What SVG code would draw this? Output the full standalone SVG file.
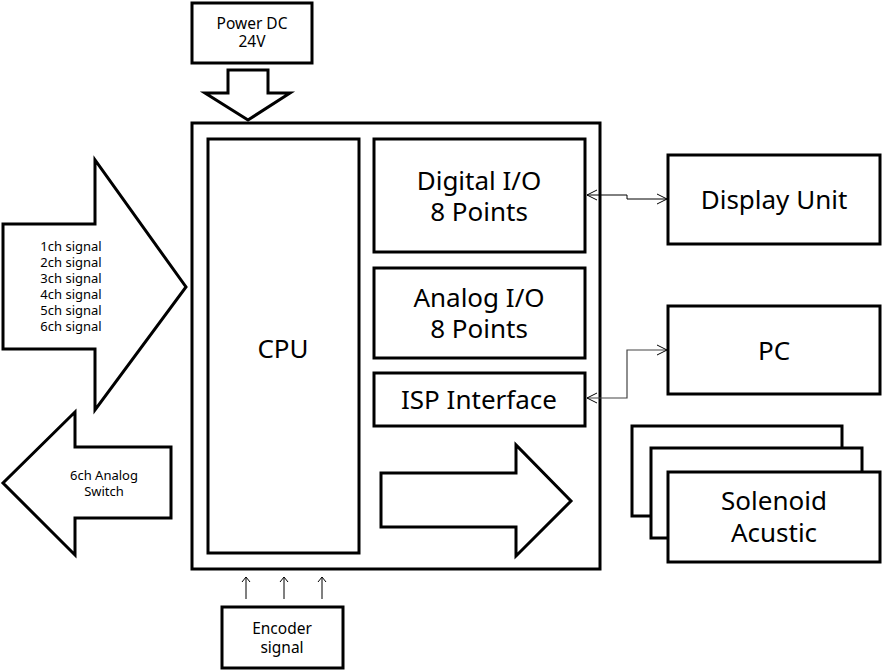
<svg xmlns="http://www.w3.org/2000/svg" width="883" height="671" viewBox="0 0 883 671">
<style>
.b{fill:#fff;stroke:#000;stroke-width:3}
.t{font-family:"Noto Sans","Open Sans",sans-serif;fill:#000;text-anchor:middle}
.L{font-size:26px}
.M{font-size:15.5px}
.S{font-size:13px}
.c{fill:none;stroke:#000;stroke-width:1}
.c2{fill:none;stroke:#444;stroke-width:1.2}
</style>
<defs>
<marker id="v" viewBox="0 0 12 12" refX="11" refY="6" markerWidth="12" markerHeight="12" markerUnits="userSpaceOnUse" orient="auto-start-reverse">
<path d="M1,1 L11,6 L1,11" fill="none" stroke="#000" stroke-width="1"/>
</marker>
<marker id="u" viewBox="0 0 10 10" refX="5" refY="1" markerWidth="10" markerHeight="10" markerUnits="userSpaceOnUse" orient="0">
<path d="M1,6 L5,1 L9,6" fill="none" stroke="#000" stroke-width="1"/>
</marker>
</defs>
<rect width="883" height="671" fill="#fff"/>
<g id="power">
<rect class="b" x="192" y="3" width="120" height="60"/>
<text class="t M" x="252" y="29">Power DC</text>
<text class="t M" x="252" y="47">24V</text>
</g>
<g id="power-arrow">
<polygon class="b" points="228,70 268,70 268,93 290,93 248,120 205,93 228,93"/>
</g>
<g id="main">
<rect class="b" x="192" y="123" width="408" height="446"/>
</g>
<g id="cpu">
<rect class="b" x="208" y="139" width="151" height="414"/>
<text class="t L" x="283" y="358">CPU</text>
</g>
<g id="digital">
<rect class="b" x="374" y="139" width="211" height="113"/>
<text class="t L" x="479" y="190">Digital I/O</text>
<text class="t L" x="479" y="221">8 Points</text>
</g>
<g id="analog">
<rect class="b" x="374" y="268" width="211" height="90"/>
<text class="t L" x="479" y="307">Analog I/O</text>
<text class="t L" x="479" y="338">8 Points</text>
</g>
<g id="isp">
<rect class="b" x="374" y="373" width="211" height="53"/>
<text class="t L" x="479" y="409">ISP Interface</text>
</g>
<g id="inner-arrow">
<polygon class="b" points="381,473 516,473 516,445 571,501 516,556 516,527 381,527"/>
</g>
<g id="input-arrow">
<polygon class="b" points="3,224 95,224 95,160 186,287 95,410 95,349 3,349"/>
<text class="t S" x="71" y="251">1ch signal</text>
<text class="t S" x="71" y="267">2ch signal</text>
<text class="t S" x="71" y="283">3ch signal</text>
<text class="t S" x="71" y="299">4ch signal</text>
<text class="t S" x="71" y="315">5ch signal</text>
<text class="t S" x="71" y="331">6ch signal</text>
</g>
<g id="switch-arrow">
<polygon class="b" points="171,447 75,447 75,412 3,483 75,555 75,518 171,518"/>
<text class="t S" x="104" y="480">6ch Analog</text>
<text class="t S" x="104" y="496">Switch</text>
</g>
<g id="display">
<rect class="b" x="668" y="155" width="212" height="89"/>
<text class="t L" x="774" y="209">Display Unit</text>
</g>
<g id="pc">
<rect class="b" x="668" y="306" width="212" height="88"/>
<text class="t L" x="774" y="360">PC</text>
</g>
<g id="solenoid">
<rect class="b" x="632" y="426" width="210" height="90"/>
<rect class="b" x="651" y="448" width="211" height="90"/>
<rect class="b" x="668" y="472" width="212" height="90"/>
<text class="t L" x="774" y="510">Solenoid</text>
<text class="t L" x="774" y="542">Acustic</text>
</g>
<g id="encoder">
<rect class="b" x="222" y="607" width="121" height="61"/>
<text class="t M" x="282" y="634">Encoder</text>
<text class="t M" x="282" y="653">signal</text>
</g>
<g id="connectors">
<path class="c" d="M587,195 L627,195 L627,199 L667,199" marker-start="url(#v)" marker-end="url(#v)"/>
<path class="c2" d="M587,398 L627,398 L627,350 L667,350" marker-start="url(#v)" marker-end="url(#v)"/>
<path class="c" d="M246,599 L246,577" marker-end="url(#u)"/>
<path class="c" d="M284,599 L284,577" marker-end="url(#u)"/>
<path class="c" d="M322,599 L322,577" marker-end="url(#u)"/>
</g>
</svg>
